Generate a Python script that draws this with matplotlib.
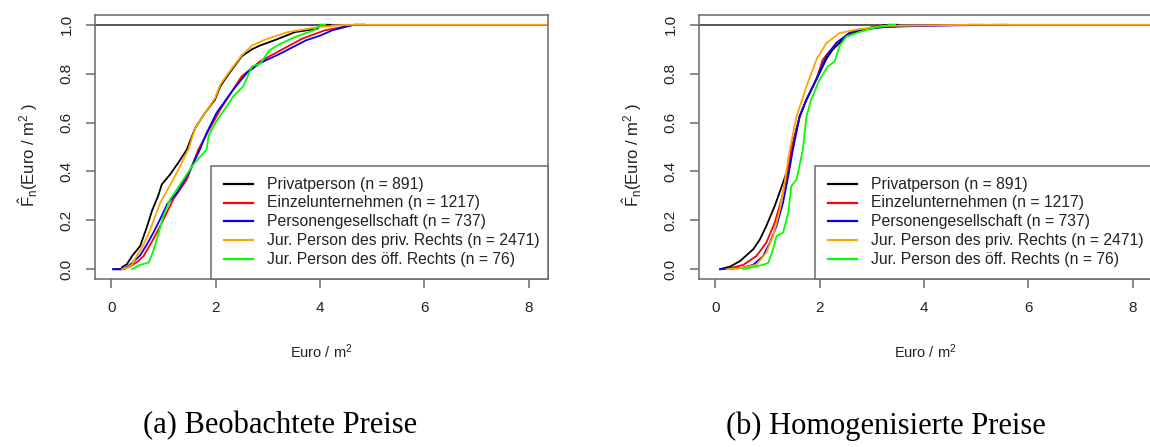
import matplotlib
matplotlib.use("Agg")
import matplotlib.pyplot as plt
from matplotlib.patches import Rectangle
from matplotlib.lines import Line2D

plt.rcParams['font.family'] = ['Liberation Sans', 'DejaVu Sans']
plt.rcParams['mathtext.fontset'] = 'custom'
plt.rcParams['mathtext.rm'] = 'Liberation Sans'
plt.rcParams['mathtext.it'] = 'Liberation Sans:italic'
plt.rcParams['mathtext.bf'] = 'Liberation Sans:bold'

# ---------------- data ----------------
categories = ["Privatperson", "Einzelunternehmen", "Personengesellschaft",
              "Jur. Person des priv. Rechts", "Jur. Person des öff. Rechts"]
counts = [891, 1217, 737, 2471, 76]
colors = ["#000000", "#FF0000", "#0000FF", "#FFA500", "#00FF00"]

x_ticks = [0, 2, 4, 6, 8]
y_ticks = [0.0, 0.2, 0.4, 0.6, 0.8, 1.0]
captions = ["(a) Beobachtete Preise", "(b) Homogenisierte Preise"]

a_priv_x = [0.04, 0.18, 0.22, 0.30, 0.40, 0.556, 0.68, 0.78, 0.90, 0.97, 1.13, 1.30, 1.45, 1.61, 1.80,
            1.99, 2.09, 2.22, 2.50, 2.70, 2.85, 3.17, 3.52, 3.95, 4.02, 4.20]
a_priv_F = [0.0, 0.0, 0.01, 0.02, 0.054, 0.095, 0.17, 0.238, 0.30, 0.347, 0.388, 0.44, 0.49, 0.578, 0.64,
            0.694, 0.748, 0.789, 0.871, 0.90, 0.915, 0.94, 0.97, 0.984, 1.0, 1.0]
a_einz_x = [0.20, 0.35, 0.50, 0.62, 0.80, 0.94, 1.19, 1.45, 1.67, 1.85, 2.09, 2.50, 2.85, 3.24, 3.66,
            4.09, 4.65, 4.85]
a_einz_F = [0.0, 0.01, 0.03, 0.054, 0.12, 0.177, 0.286, 0.367, 0.49, 0.56, 0.653, 0.789, 0.85, 0.895, 0.943,
            0.977, 1.0, 1.0]
a_pers_x = [0.04, 0.25, 0.40, 0.556, 0.68, 0.81, 0.95, 1.07, 1.26, 1.50, 1.70, 1.83, 2.02, 2.34, 2.60,
            2.85, 3.24, 3.73, 4.02, 4.23, 4.65, 4.85]
a_pers_F = [0.0, 0.0, 0.025, 0.057, 0.10, 0.15, 0.21, 0.265, 0.313, 0.40, 0.49, 0.558, 0.64, 0.735, 0.803,
            0.843, 0.882, 0.936, 0.957, 0.977, 1.0, 1.0]
a_jpriv_x = [0.21, 0.30, 0.40, 0.49, 0.62, 0.75, 0.94, 1.19, 1.48, 1.61, 1.80, 1.99, 2.09, 2.22, 2.50,
             2.70, 2.96, 3.38, 3.95, 4.50, 8.37]
a_jpriv_F = [0.0, 0.005, 0.02, 0.054, 0.10, 0.163, 0.272, 0.367, 0.49, 0.578, 0.64, 0.70, 0.755, 0.795, 0.875,
             0.915, 0.94, 0.97, 0.99, 1.0, 1.0]
a_joeff_x = [0.40, 0.55, 0.72, 0.80, 0.875, 1.00, 1.13, 1.26, 1.51, 1.58, 1.83, 1.865, 2.0, 2.34, 2.53,
             2.70, 2.85, 3.03, 3.24, 3.52, 3.88, 4.02, 4.10]
a_joeff_F = [0.0, 0.018, 0.027, 0.07, 0.122, 0.218, 0.286, 0.327, 0.408, 0.43, 0.49, 0.544, 0.60, 0.707, 0.748,
             0.83, 0.84, 0.895, 0.922, 0.95, 0.977, 1.0, 1.0]

# panel (b): homogenised prices
b_priv_x = [0.095, 0.29, 0.48, 0.73, 0.857, 0.98, 1.14, 1.30, 1.43, 1.46, 1.62, 1.75, 1.94, 2.13, 2.25,
            2.51, 2.76, 3.0, 3.3, 3.5]
b_priv_F = [0.0, 0.011, 0.034, 0.082, 0.122, 0.177, 0.258, 0.354, 0.435, 0.49, 0.626, 0.694, 0.776, 0.86, 0.898,
            0.952, 0.975, 0.99, 1.0, 1.0]
b_einz_x = [0.22, 0.54, 0.79, 0.98, 1.14, 1.27, 1.40, 1.46, 1.62, 1.75, 1.94, 2.06, 2.32, 2.57, 2.76,
            3.2, 4.0, 4.9, 5.1]
b_einz_F = [0.0, 0.018, 0.054, 0.109, 0.19, 0.286, 0.408, 0.49, 0.626, 0.694, 0.776, 0.857, 0.925, 0.966, 0.98,
            0.99, 0.996, 1.0, 1.0]
b_pers_x = [0.095, 0.50, 0.73, 0.92, 1.05, 1.175, 1.30, 1.40, 1.49, 1.62, 1.75, 1.94, 2.13, 2.32, 2.57,
            2.76, 3.2, 3.6, 5.4, 5.6]
b_pers_F = [0.0, 0.005, 0.018, 0.054, 0.109, 0.177, 0.272, 0.381, 0.49, 0.626, 0.694, 0.78, 0.871, 0.925, 0.966,
            0.98, 0.99, 0.995, 1.0, 1.0]
b_jpriv_x = [0.22, 0.50, 0.79, 0.98, 1.11, 1.24, 1.33, 1.43, 1.56, 1.75, 1.94, 2.13, 2.38, 2.70, 3.2,
             4.9, 8.37]
b_jpriv_F = [0.0, 0.005, 0.018, 0.068, 0.136, 0.245, 0.354, 0.49, 0.626, 0.748, 0.857, 0.925, 0.966, 0.98, 0.995,
             1.0, 1.0]
b_joeff_x = [0.54, 0.92, 1.02, 1.11, 1.175, 1.30, 1.40, 1.46, 1.56, 1.68, 1.75, 1.84, 2.0, 2.16, 2.29,
             2.38, 2.51, 2.76, 3.0, 3.35, 3.45]
b_joeff_F = [0.0, 0.018, 0.027, 0.082, 0.136, 0.15, 0.231, 0.34, 0.367, 0.49, 0.626, 0.694, 0.776, 0.83, 0.85,
             0.911, 0.952, 0.97, 0.985, 1.0, 1.0]

panel_a = [(a_priv_x, a_priv_F), (a_einz_x, a_einz_F), (a_pers_x, a_pers_F),
           (a_jpriv_x, a_jpriv_F), (a_joeff_x, a_joeff_F)]
panel_b = [(b_priv_x, b_priv_F), (b_einz_x, b_einz_F), (b_pers_x, b_pers_F),
           (b_jpriv_x, b_jpriv_F), (b_joeff_x, b_joeff_F)]

# ---------------- figure ----------------
W, H = 1150, 447
fig = plt.figure(figsize=(W / 100, H / 100), dpi=100)
frame_col = "#6a6a6a"
text_col = "#222222"

def px_axes(left, top, right, bottom):
    return fig.add_axes([left / W, 1 - bottom / H, (right - left) / W, (bottom - top) / H])

axes = [px_axes(95, 15, 548, 279), px_axes(699, 15, 1152, 279)]
cap_x = [280, 886]

for ax, panel, cap, cx in zip(axes, [panel_a, panel_b], captions, cap_x):
    ax.set_xlim(-0.31, 8.37)
    ax.set_ylim(-0.04, 1.04)
    ax.axhline(1.0, color="#4a4a4a", lw=1.3, zorder=1)
    for (xs, Fs), col in zip(panel, colors):
        ax.plot(xs, Fs, color=col, lw=1.3, zorder=2, solid_joinstyle='miter')
    for s in ax.spines.values():
        s.set_color(frame_col)
        s.set_linewidth(1.1)
    ax.set_xticks(x_ticks)
    ax.set_xticklabels([str(t) for t in x_ticks])
    ax.set_yticks(y_ticks)
    ax.set_yticklabels([f"{t:.1f}" for t in y_ticks], rotation=90, va='center')
    ax.tick_params(axis='both', length=6.5, width=1.1, color=frame_col,
                   labelsize=11, labelcolor=text_col)
    ax.tick_params(axis='x', pad=9.5)
    ax.tick_params(axis='y', pad=9)
    ax.set_xlabel(r"Euro / m$^{2}$", fontsize=10.5, color=text_col)
    ax.xaxis.set_label_coords(0.5, -0.2765)
    ax.xaxis.label.set_va('center')
    ax.set_ylabel(r"$\hat{\mathrm{F}}_{\mathrm{n}}\mathrm{(Euro\ /\ m^{2}\ )}$", fontsize=12, color=text_col)
    ax.yaxis.set_label_coords(-0.148, 0.47)
    ax.yaxis.label.set_va('center')

    # legend (bottom right, R style)
    lw_ax = 337 / 453.0
    lh_ax = (279 - 165.7) / 264.0
    ax.add_patch(Rectangle((1 - lw_ax, 0), lw_ax, lh_ax, transform=ax.transAxes,
                           facecolor='white', edgecolor="#6a6a6a", lw=1.1, zorder=5, clip_on=False))
    row_y = [0.3587, 0.289, 0.2186, 0.1466, 0.0746]
    for cat, n, col, ry in zip(categories, counts, colors, row_y):
        ax.add_line(Line2D([0.2848, 0.3488], [ry, ry], transform=ax.transAxes,
                           color=col, lw=1.6, zorder=6, clip_on=False))
        ax.text(0.379, ry, f"{cat} (n = {n})", transform=ax.transAxes, fontsize=11.3,
                color=text_col, va='center', ha='left', zorder=6)

    fig.text(cx / W, 1 - 426 / H, cap, family=['Liberation Serif', 'DejaVu Serif'],
             fontsize=22, ha='center', va='center', color='black')

fig.savefig("out.png", dpi=100)
